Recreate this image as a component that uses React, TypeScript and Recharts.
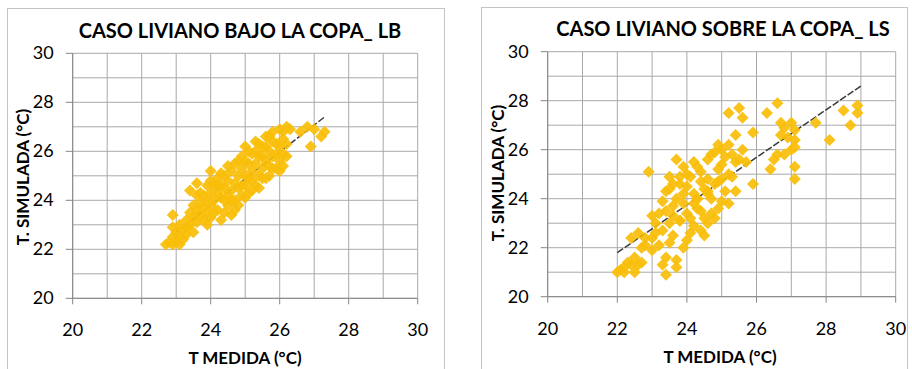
import { ScatterChart, Scatter, XAxis, YAxis, CartesianGrid, ReferenceLine } from "recharts";

// CASO LIVIANO BAJO LA COPA_ LB
const lbMedida = [
  22.7, 22.8, 22.9, 23.0, 23.0, 23.1, 22.9, 23.2, 22.9, 23.1, 23.3, 23.3, 23.4, 23.4, 23.5, 23.5,
  23.6, 23.6, 23.6, 23.7, 23.7, 23.8, 23.8, 23.8, 23.9, 23.9, 23.9, 24.0, 24.0, 24.0, 24.0, 24.1,
  24.1, 24.2, 24.2, 24.2, 24.3, 24.3, 24.3, 24.4, 24.4, 24.5, 24.5, 24.5, 24.6, 24.6, 24.6, 24.7,
  24.7, 24.7, 24.8, 24.8, 24.8, 24.9, 24.9, 24.9, 25.0, 25.0, 25.0, 25.1, 25.1, 25.2, 25.2, 25.2,
  25.3, 25.3, 25.3, 25.4, 25.4, 25.5, 25.5, 25.6, 25.6, 25.6, 25.7, 25.7, 25.8, 25.8, 25.9, 25.9,
  26.0, 26.0, 26.1, 26.1, 26.2, 26.2, 26.3, 26.6, 26.8, 27.0, 26.9, 27.2, 27.3,
  23.2, 23.3, 23.5, 23.7, 23.9, 24.0, 24.1, 24.2, 24.3, 24.4, 24.4, 24.5, 24.6, 24.7, 24.8, 24.9,
  25.0, 25.0, 25.1, 25.1, 25.2, 25.3, 25.4, 25.4, 25.5, 25.5, 25.6, 25.7, 25.7, 25.8, 25.8, 25.9,
  26.0, 26.0, 26.1, 26.2, 26.1, 23.4, 23.6, 22.9, 23.1,
];
const lbSimulada = [
  22.2, 22.3, 22.5, 22.3, 22.7, 22.5, 22.9, 22.8, 23.4, 23.0, 22.9, 23.2, 23.0, 23.5, 22.7, 23.3,
  23.1, 23.6, 24.7, 23.4, 23.9, 23.2, 23.7, 24.2, 23.5, 24.0, 24.6, 23.3, 23.8, 24.3, 25.2, 24.0,
  24.6, 23.6, 24.3, 24.9, 23.2, 24.1, 25.1, 23.5, 24.5, 23.8, 24.2, 24.8, 23.4, 24.4, 25.2, 24.0,
  24.7, 25.5, 23.8, 24.5, 25.0, 24.2, 25.3, 25.8, 24.6, 25.0, 26.2, 24.3, 25.5, 24.8, 25.2, 25.9,
  24.6, 25.5, 26.4, 25.0, 25.8, 25.3, 26.2, 24.9, 25.6, 26.6, 25.4, 26.0, 25.8, 26.8, 25.3, 26.3,
  25.6, 26.9, 25.4, 26.5, 25.8, 27.0, 26.9, 26.8, 27.0, 26.9, 26.2, 26.6, 26.8,
  22.4, 22.6, 23.8, 24.3, 23.0, 24.8, 23.5, 24.6, 24.6, 25.0, 24.0, 25.4, 24.0, 23.6, 25.6, 24.6,
  24.1, 25.6, 26.0, 24.9, 24.4, 26.0, 24.5, 26.3, 24.9, 25.8, 26.2, 25.0, 26.6, 25.3, 26.4, 25.9,
  25.2, 26.2, 26.8, 26.3, 25.9, 24.4, 24.2, 22.2, 22.2,
];
const lbTendMedida = [23.0, 27.3];
const lbTendSimulada = [22.7, 27.4];

// CASO LIVIANO SOBRE LA COPA_ LS
const lsMedida = [
  22.0, 22.1, 22.2, 22.3, 22.5, 22.6, 22.4, 22.6, 22.8, 23.0, 23.3, 23.4, 23.7, 23.7, 23.5, 23.6,
  23.9, 24.0, 24.1, 24.2, 24.4, 24.5, 24.6, 24.8, 24.9, 23.2, 23.3, 23.4, 23.5, 23.6, 23.8, 23.9,
  24.0, 24.1, 24.2, 24.3, 24.4, 24.5, 24.6, 24.7, 24.8, 24.9, 25.0, 25.0, 25.1, 25.2, 25.2, 25.3,
  25.4, 25.4, 24.9, 24.7, 24.4, 24.2, 23.9, 23.6, 22.9, 23.4, 23.7, 26.3, 26.6, 28.1, 28.5, 28.9,
  28.9, 28.7, 27.1, 27.1, 25.9, 26.4, 25.5, 25.6, 25.2, 25.9, 27.1, 27.1, 27.0, 26.8, 26.7, 26.6,
  26.8, 27.1, 27.7, 25.7, 23.1, 23.8, 24.3, 22.7, 23.0, 24.6,
  22.2, 22.4, 22.5, 22.7, 22.8, 23.0, 23.1, 23.2, 23.3, 23.4, 23.5, 23.6, 23.7, 23.8, 23.9, 24.0,
  24.1, 24.2, 24.3, 24.4, 24.5, 24.6, 24.7, 24.8, 24.9, 25.0, 25.1, 25.2, 25.3, 25.4, 25.5, 25.6,
  23.5, 23.8, 24.0, 24.3, 24.6, 25.0, 26.7, 26.9, 27.0, 26.5,
];
const lsSimulada = [
  21.0, 21.1, 21.2, 21.4, 21.6, 21.3, 22.4, 22.6, 22.1, 22.4, 21.3, 21.6, 21.5, 21.2, 22.2, 22.5,
  22.0, 22.3, 22.6, 22.9, 22.7, 22.5, 23.0, 23.2, 23.6, 23.4, 23.9, 24.3, 24.9, 23.7, 24.6, 24.2,
  23.4, 24.9, 23.8, 25.3, 23.5, 24.4, 25.6, 24.0, 25.9, 24.7, 25.4, 26.0, 24.3, 26.2, 23.8, 24.9,
  25.5, 26.6, 26.2, 25.8, 25.1, 25.5, 25.3, 24.6, 25.1, 20.9, 25.6, 27.5, 27.9, 26.4, 27.6, 27.8,
  27.5, 27.0, 25.3, 24.8, 24.6, 25.2, 27.7, 27.3, 27.5, 26.7, 26.4, 26.8, 27.1, 26.9, 26.6, 25.8,
  25.8, 26.1, 27.1, 25.5, 23.0, 23.1, 24.0, 22.0, 23.3, 24.3,
  21.0, 21.3, 21.0, 21.4, 22.4, 21.9, 22.6, 22.1, 22.7, 23.5, 23.0, 23.3, 24.0, 23.1, 23.8, 24.5,
  23.2, 24.2, 23.6, 24.7, 23.2, 24.2, 23.4, 24.6, 25.2, 24.8, 25.7, 25.0, 25.8, 24.3, 25.6, 26.0,
  24.4, 24.9, 25.0, 24.0, 24.8, 23.9, 27.1, 26.5, 26.0, 25.6,
];
const lsTendMedida = [22.0, 29.0];
const lsTendSimulada = [21.8, 28.6];

const axisTicks = [20, 21, 22, 23, 24, 25, 26, 27, 28, 29, 30];

const font = "Lato, 'Open Sans', sans-serif";
const gold = "#F9BE08";

const toPoints = (xs: number[], ys: number[]) => xs.map((x, i) => ({ x, y: ys[i] }));

function Diamond(props: any) {
  const { cx, cy } = props;
  const r = 6;
  return (
    <polygon
      points={`${cx},${cy - r} ${cx + r},${cy} ${cx},${cy + r} ${cx - r},${cy}`}
      fill={gold}
      fillOpacity={0.92}
    />
  );
}

function XTick(props: any) {
  const { x, y, payload } = props;
  if (payload.value % 2 !== 0) return <g />;
  return (
    <g>
      <line x1={x} x2={x} y1={y} y2={y + 6} stroke="#868686" />
      <text x={x} y={y + 38} textAnchor="middle" fontSize={18} fill="#000" fontFamily={font}>
        {payload.value}
      </text>
    </g>
  );
}

function YTick(props: any) {
  const { x, y, payload } = props;
  if (payload.value % 2 !== 0) return <g />;
  return (
    <g>
      <line x1={x - 7} x2={x} y1={y} y2={y} stroke="#868686" />
      <text x={x - 19} y={y + 6} textAnchor="end" fontSize={18} fill="#000" fontFamily={font}>
        {payload.value}
      </text>
    </g>
  );
}

type PanelProps = {
  title: string;
  medida: number[];
  simulada: number[];
  tendMedida: number[];
  tendSimulada: number[];
  left: number;
  top: number;
  width: number;
  margin: { top: number; right: number; bottom: number; left: number };
  titlePos: [number, number];
  xLabelPos: [number, number];
  yLabelPos: [number, number];
};

function Panel(p: PanelProps) {
  const height = 361;
  return (
    <div
      style={{
        position: "absolute",
        left: p.left,
        top: p.top,
        width: p.width,
        height,
        border: "1px solid #c4c4c4",
        background: "#fff",
        fontFamily: font,
      }}
    >
      <ScatterChart width={p.width} height={height} margin={p.margin}>
        <CartesianGrid stroke="#a9a9a9" strokeWidth={1} />
        <XAxis
          type="number"
          dataKey="x"
          domain={[20, 30]}
          ticks={axisTicks}
          interval={0}
          allowDataOverflow
          height={30}
          tickSize={0}
          tickMargin={0}
          tickLine={false}
          axisLine={{ stroke: "#868686" }}
          tick={<XTick />}
        />
        <YAxis
          type="number"
          dataKey="y"
          domain={[20, 30]}
          ticks={axisTicks}
          interval={0}
          allowDataOverflow
          width={45}
          tickSize={0}
          tickMargin={0}
          tickLine={false}
          axisLine={{ stroke: "#868686" }}
          tick={<YTick />}
        />
        <Scatter
          data={toPoints(p.medida, p.simulada)}
          shape={<Diamond />}
          isAnimationActive={false}
        />
        <ReferenceLine
          segment={toPoints(p.tendMedida, p.tendSimulada)}
          stroke="#3a3a3a"
          strokeWidth={1.5}
          strokeDasharray="7 2"
        />
      </ScatterChart>
      <div
        style={{
          position: "absolute",
          left: p.titlePos[0],
          top: p.titlePos[1],
          transform: "translate(-50%, -50%)",
          whiteSpace: "nowrap",
          fontWeight: 700,
          fontSize: 20,
        }}
      >
        {p.title}
      </div>
      <div
        style={{
          position: "absolute",
          left: p.xLabelPos[0],
          top: p.xLabelPos[1],
          transform: "translate(-50%, -50%)",
          whiteSpace: "nowrap",
          fontWeight: 700,
          fontSize: 17,
        }}
      >
        T MEDIDA (°C)
      </div>
      <div
        style={{
          position: "absolute",
          left: p.yLabelPos[0],
          top: p.yLabelPos[1],
          transform: "translate(-50%, -50%) rotate(-90deg)",
          whiteSpace: "nowrap",
          fontWeight: 700,
          fontSize: 17,
        }}
      >
        T. SIMULADA (°C)
      </div>
    </div>
  );
}

export default function App() {
  return (
    <div style={{ position: "absolute", left: 0, top: 0, width: 912, height: 369, overflow: "hidden", background: "#fff" }}>
      <Panel
        title="CASO LIVIANO BAJO LA COPA_ LB"
        medida={lbMedida}
        simulada={lbSimulada}
        tendMedida={lbTendMedida}
        tendSimulada={lbTendSimulada}
        left={7}
        top={8}
        width={436}
        margin={{ top: 44.3, right: 26.3, bottom: 41.7, left: 19.7 }}
        titlePos={[232, 21]}
        xLabelPos={[237, 348]}
        yLabelPos={[14, 168]}
      />
      <Panel
        title="CASO LIVIANO SOBRE LA COPA_ LS"
        medida={lsMedida}
        simulada={lsSimulada}
        tendMedida={lsTendMedida}
        tendSimulada={lsTendSimulada}
        left={481}
        top={7}
        width={425}
        margin={{ top: 43.7, right: 11.3, bottom: 42.3, left: 20.7 }}
        titlePos={[241, 20]}
        xLabelPos={[238, 348]}
        yLabelPos={[15, 165]}
      />
    </div>
  );
}
